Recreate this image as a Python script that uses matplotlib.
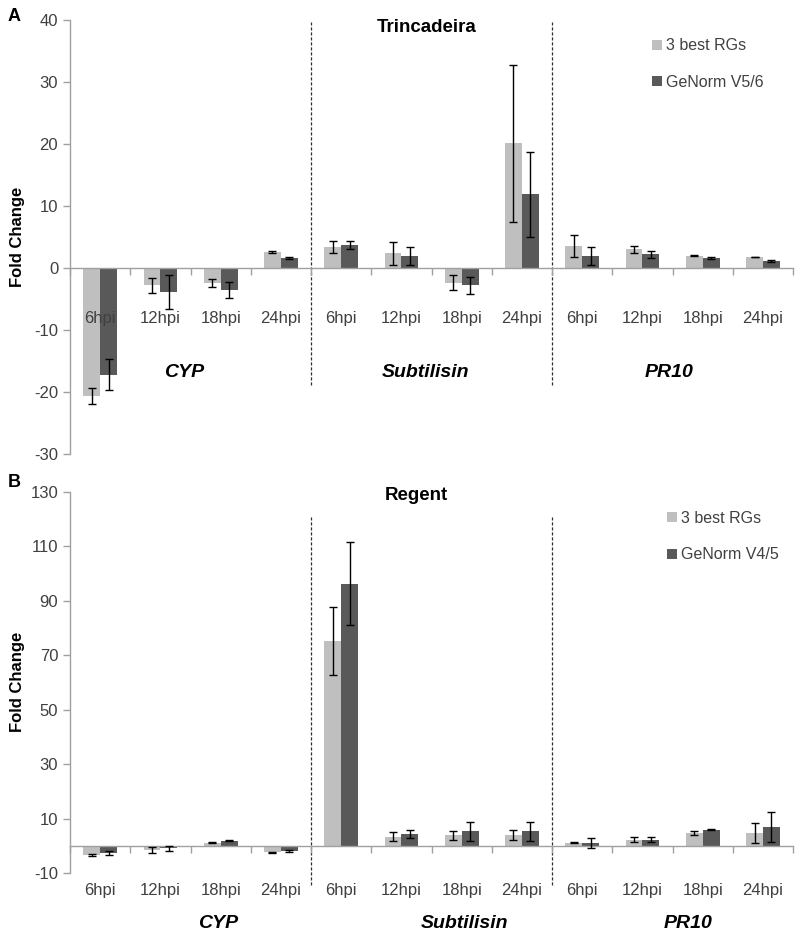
import matplotlib
matplotlib.use("Agg")
import matplotlib.pyplot as plt
import numpy as np

plt.rcParams['font.family'] = ['Liberation Sans', 'DejaVu Sans']
plt.rcParams['axes.unicode_minus'] = False

# categories
hpi = ["6hpi", "12hpi", "18hpi", "24hpi"] * 3
genes = ["CYP", "Subtilisin", "PR10"]

# panel A - Trincadeira
trinc_best = [-20.7, -2.8, -2.4, 2.6, 3.4, 2.4, -2.4, 20.1, 3.5, 3.0, 2.0, 1.8]
trinc_best_err = [1.3, 1.25, 0.6, 0.1, 0.95, 1.85, 1.2, 12.7, 1.8, 0.55, 0.1, 0.05]
trinc_gn = [-17.2, -3.9, -3.5, 1.6, 3.7, 1.95, -2.8, 11.9, 1.95, 2.2, 1.6, 1.15]
trinc_gn_err = [2.45, 2.75, 1.3, 0.1, 0.7, 1.4, 1.35, 6.9, 1.4, 0.6, 0.1, 0.1]

# panel B - Regent
reg_best = [-3.4, -1.6, 1.2, -2.4, 75.2, 3.4, 3.9, 3.9, 1.2, 2.3, 4.8, 4.8]
reg_best_err = [0.3, 1.0, 0.2, 0.2, 12.5, 1.7, 1.7, 1.9, 0.2, 0.8, 0.8, 3.6]
reg_gn = [-2.7, -1.0, 1.8, -1.8, 96.2, 4.3, 5.4, 5.4, 1.1, 2.3, 5.9, 6.9]
reg_gn_err = [0.6, 0.8, 0.2, 0.4, 15.2, 1.6, 3.5, 3.5, 1.8, 0.8, 0.2, 5.6]

light = "#bfbfbf"
dark = "#595959"
axcol = "#a0a0a0"
txtcol = "#404040"

fig = plt.figure(figsize=(7.99, 9.36), dpi=100)
axA = fig.add_axes([0.0876, 0.515, 0.905, 0.4635])
axB = fig.add_axes([0.0876, 0.0673, 0.905, 0.4074])


def draw(ax, best, best_err, gn, gn_err, ylim, yticks, title, title_xy,
         leg_lab, leg_xy, lab_pad, gene_x, gene_off, dash_y):
    x = np.arange(len(hpi))
    w = 0.28
    ax.bar(x - w / 2, best, w, color=light, label="3 best RGs", zorder=2)
    ax.bar(x + w / 2, gn, w, color=dark, label=leg_lab, zorder=2)
    ax.errorbar(x - w / 2, best, yerr=best_err, fmt="none", ecolor="black",
                elinewidth=1, capsize=3, capthick=1, zorder=3)
    ax.errorbar(x + w / 2, gn, yerr=gn_err, fmt="none", ecolor="black",
                elinewidth=1, capsize=3, capthick=1, zorder=3)
    ax.set_axisbelow(False)

    ax.set_xlim(-0.5, len(hpi) - 0.5)
    ax.set_ylim(*ylim)
    ax.set_yticks(yticks)
    ax.spines['top'].set_visible(False)
    ax.spines['right'].set_visible(False)
    ax.spines['bottom'].set_position(('data', 0))
    for s in ('left', 'bottom'):
        ax.spines[s].set_color(axcol)
        ax.spines[s].set_linewidth(1)
    ax.tick_params(axis='y', colors=axcol, labelcolor=txtcol, labelsize=12,
                   length=5, width=1)

    # ticks between categories, labels at the centre
    ax.set_xticks(np.arange(-0.5, len(hpi)))
    ax.set_xticklabels([])
    ax.tick_params(axis='x', which='major', colors=axcol, length=5, width=1,
                   direction='out')
    ax.set_xticks(x, minor=True)
    ax.set_xticklabels(hpi, minor=True)
    ax.tick_params(axis='x', which='minor', length=0, labelsize=12,
                   labelcolor=txtcol, pad=lab_pad)

    for g, gx in zip(genes, gene_x):
        ax.annotate(g, xy=(gx, 0), xycoords='data', xytext=(0, -gene_off),
                    textcoords='offset points', ha='center', va='center',
                    fontsize=14, fontweight='bold', fontstyle='italic',
                    color='black', annotation_clip=False)

    for dx in (3.5, 7.5):
        ax.axvline(dx, ymin=dash_y[0], ymax=dash_y[1], color='#303030',
                   lw=0.9, ls=(0, (2.5, 1.5)), clip_on=False, zorder=1)

    ax.text(title_xy[0], title_xy[1], title, transform=ax.transAxes,
            ha='center', va='center', fontsize=13.5, fontweight='bold')
    ax.set_ylabel("Fold Change", fontsize=12, fontweight='bold')
    ax.legend(loc='upper left', bbox_to_anchor=leg_xy, frameon=False,
              fontsize=11.5, labelspacing=1.35, handlelength=0.6,
              handleheight=0.6, handletextpad=0.25, borderpad=0,
              borderaxespad=0, labelcolor=txtcol)


draw(axA, trinc_best, trinc_best_err, trinc_gn, trinc_gn_err,
     (-30, 40), np.arange(-30, 41, 10), "Trincadeira", (0.493, 0.982),
     "GeNorm V5/6", (0.805, 0.958), 31, [1.4, 5.4, 9.45], 75,
     (0.159, 0.995))
draw(axB, reg_best, reg_best_err, reg_gn, reg_gn_err,
     (-10, 130), np.arange(-10, 131, 20), "Regent", (0.479, 0.991),
     "GeNorm V4/5", (0.826, 0.950), 27, [1.95, 6.05, 9.75], 56,
     (-0.031, 0.934))

axA.yaxis.set_label_coords(-0.062, 0.5)
axB.yaxis.set_label_coords(-0.062, 0.5)

fig.text(0.01, 0.982, "A", fontsize=13, fontweight='bold', va='center')
fig.text(0.01, 0.484, "B", fontsize=13, fontweight='bold', va='center')

fig.savefig("out.png", dpi=100)
